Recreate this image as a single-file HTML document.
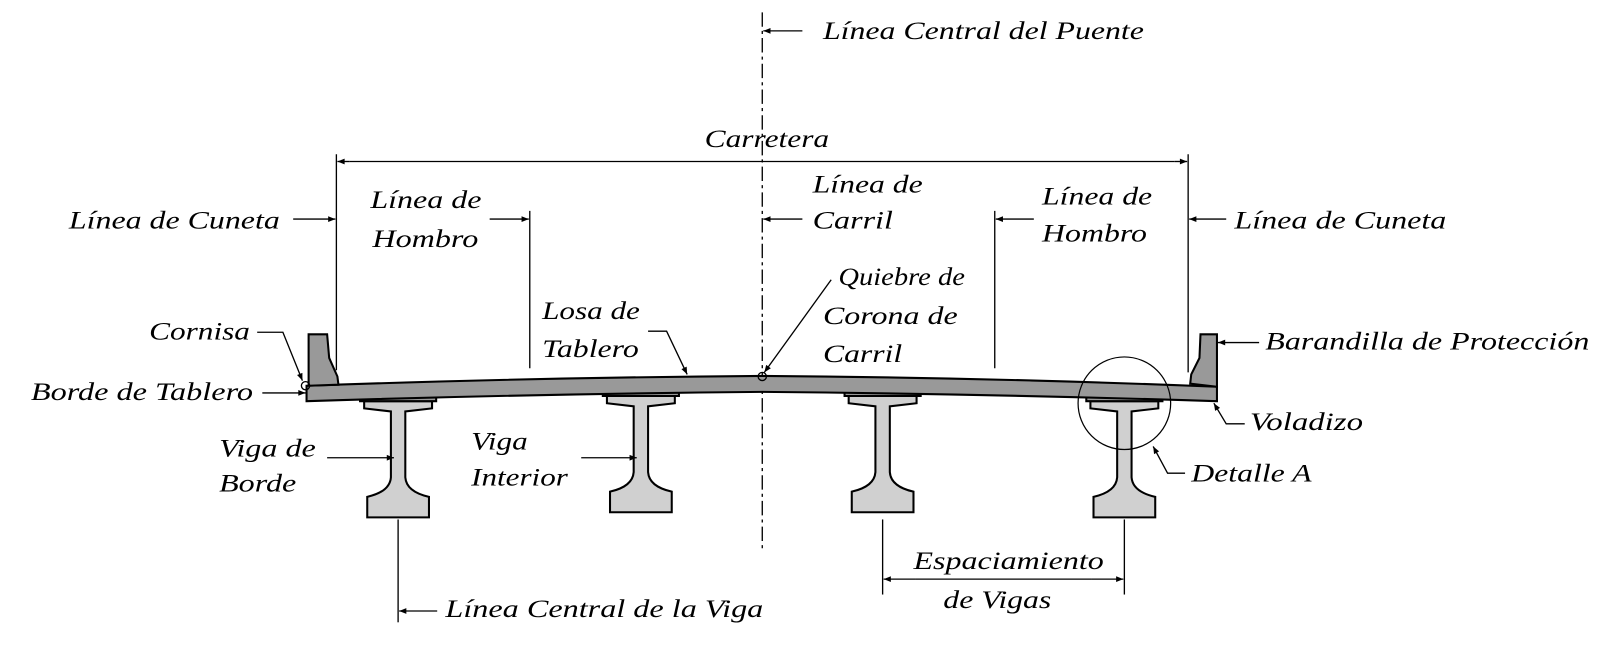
<!DOCTYPE html>
<html><head><meta charset="utf-8"><style>
html,body{margin:0;padding:0;background:#fff;}
svg{display:block;}
text{font-family:"Liberation Serif","Times New Roman",serif;font-style:italic;font-size:25px;fill:#000;}
</style></head><body>
<svg width="1613" height="647" viewBox="0 0 1568 629" preserveAspectRatio="none" xmlns="http://www.w3.org/2000/svg">
<defs>
<marker id="a" viewBox="0 0 10 10" refX="10" refY="5" markerWidth="9" markerHeight="7" orient="auto" markerUnits="userSpaceOnUse"><path d="M0,1 L10,5 L0,9 z" fill="#000"/></marker>
<g id="g">
<path d="M-33,4 L33,4 L33,11 L7,14 L7,78 Q8,92 30,97 L30,117 L-30,117 L-30,97 Q-8,92 -7,78 L-7,14 L-33,11 Z" fill="#d0d0d0" stroke="#000" stroke-width="2"/>
<path d="M-37,-4 L37,-4 L37,4 L-37,4 Z" fill="#999" stroke="#000" stroke-width="2"/>
</g>
</defs>
<rect width="1568" height="629" fill="#fff"/>
<line x1="741" y1="12" x2="741" y2="535" stroke="#000" stroke-width="1.3" stroke-dasharray="14,4,3,4"/>
<g stroke="#000" stroke-width="1.3">
<line x1="327" y1="150" x2="327" y2="360"/>
<line x1="515" y1="205" x2="515" y2="358"/>
<line x1="967" y1="205" x2="967" y2="358"/>
<line x1="1155" y1="150" x2="1155" y2="362"/>
<line x1="387" y1="505" x2="387" y2="605"/>
<line x1="858" y1="505" x2="858" y2="578"/>
<line x1="1093" y1="505" x2="1093" y2="578"/>
</g>
<use href="#g" x="387" y="386"/>
<use href="#g" x="623" y="381"/>
<use href="#g" x="858" y="381"/>
<use href="#g" x="1093" y="386"/>
<path d="M298,375 Q520,367 741,365.5 Q962,367 1183,376 L1183,390 Q962,383 741,381 Q520,383 298,390 Z" fill="#999" stroke="#000" stroke-width="2"/>
<path d="M300,375 L300,325 L318,325 L320,348 L328,366 L329,374 Z" fill="#999" stroke="#000" stroke-width="2"/>
<path d="M1183,376 L1183,325 L1167,325 L1166,348 L1158,364 L1157,373 Z" fill="#999" stroke="#000" stroke-width="2"/>
<circle cx="297" cy="375" r="4" fill="none" stroke="#000" stroke-width="1.3"/>
<circle cx="741" cy="366" r="4" fill="none" stroke="#000" stroke-width="1.3"/>
<circle cx="1093" cy="392" r="45" fill="none" stroke="#000" stroke-width="1.2"/>
<g stroke="#000" stroke-width="1.3" fill="none">
<line x1="340" y1="157" x2="1142" y2="157"/>
<line x1="340" y1="157" x2="328" y2="157" marker-end="url(#a)"/>
<line x1="1142" y1="157" x2="1154" y2="157" marker-end="url(#a)"/>
<line x1="780" y1="30" x2="742" y2="30" marker-end="url(#a)"/>
<line x1="285" y1="213" x2="326" y2="213" marker-end="url(#a)"/>
<line x1="476" y1="213" x2="514" y2="213" marker-end="url(#a)"/>
<line x1="780" y1="213" x2="742" y2="213" marker-end="url(#a)"/>
<line x1="1005" y1="213" x2="968" y2="213" marker-end="url(#a)"/>
<line x1="1192" y1="213" x2="1156" y2="213" marker-end="url(#a)"/>
<polyline points="630,322 648,322 668,364" marker-end="url(#a)"/>
<line x1="808" y1="272" x2="743" y2="362" marker-end="url(#a)"/>
<polyline points="250,323 275,323 294,370" marker-end="url(#a)"/>
<line x1="255" y1="382" x2="297" y2="382" marker-end="url(#a)"/>
<line x1="318" y1="445" x2="383" y2="445" marker-end="url(#a)"/>
<line x1="565" y1="445" x2="619" y2="445" marker-end="url(#a)"/>
<line x1="1224" y1="333" x2="1184" y2="333" marker-end="url(#a)"/>
<polyline points="1210,412 1192,412 1180,392" marker-end="url(#a)"/>
<polyline points="1152,460 1135,460 1121,434" marker-end="url(#a)"/>
<line x1="425" y1="594" x2="388" y2="594" marker-end="url(#a)"/>
<line x1="890" y1="563" x2="1061" y2="563"/>
<line x1="890" y1="563" x2="859" y2="563" marker-end="url(#a)"/>
<line x1="1061" y1="563" x2="1092" y2="563" marker-end="url(#a)"/>
</g>
<text x="800" y="38" textLength="312" lengthAdjust="spacingAndGlyphs">Línea Central del Puente</text>
<text x="685" y="143" textLength="121" lengthAdjust="spacingAndGlyphs">Carretera</text>
<text x="67" y="222" textLength="205" lengthAdjust="spacingAndGlyphs">Línea de Cuneta</text>
<text x="360" y="202" textLength="108" lengthAdjust="spacingAndGlyphs">Línea de</text>
<text x="362" y="240" textLength="103" lengthAdjust="spacingAndGlyphs">Hombro</text>
<text x="790" y="187" textLength="107" lengthAdjust="spacingAndGlyphs">Línea de</text>
<text x="790" y="222" textLength="78" lengthAdjust="spacingAndGlyphs">Carril</text>
<text x="1013" y="199" textLength="107" lengthAdjust="spacingAndGlyphs">Línea de</text>
<text x="1013" y="235" textLength="102" lengthAdjust="spacingAndGlyphs">Hombro</text>
<text x="1200" y="222" textLength="206" lengthAdjust="spacingAndGlyphs">Línea de Cuneta</text>
<text x="527" y="310" textLength="95" lengthAdjust="spacingAndGlyphs">Losa de</text>
<text x="527" y="347" textLength="94" lengthAdjust="spacingAndGlyphs">Tablero</text>
<text x="815" y="277" textLength="123" lengthAdjust="spacingAndGlyphs">Quiebre de</text>
<text x="800" y="315" textLength="131" lengthAdjust="spacingAndGlyphs">Corona de</text>
<text x="800" y="352" textLength="77" lengthAdjust="spacingAndGlyphs">Carril</text>
<text x="145" y="330" textLength="98" lengthAdjust="spacingAndGlyphs">Cornisa</text>
<text x="30" y="389" textLength="216" lengthAdjust="spacingAndGlyphs">Borde de Tablero</text>
<text x="213" y="444" textLength="94" lengthAdjust="spacingAndGlyphs">Viga de</text>
<text x="213" y="478" textLength="75" lengthAdjust="spacingAndGlyphs">Borde</text>
<text x="458" y="437" textLength="55" lengthAdjust="spacingAndGlyphs">Viga</text>
<text x="458" y="472" textLength="94" lengthAdjust="spacingAndGlyphs">Interior</text>
<text x="1230" y="340" textLength="315" lengthAdjust="spacingAndGlyphs">Barandilla de Protección</text>
<text x="1215" y="418" textLength="110" lengthAdjust="spacingAndGlyphs">Voladizo</text>
<text x="1158" y="468" textLength="117" lengthAdjust="spacingAndGlyphs">Detalle A</text>
<text x="888" y="553" textLength="185" lengthAdjust="spacingAndGlyphs">Espaciamiento</text>
<text x="917" y="591" textLength="105" lengthAdjust="spacingAndGlyphs">de Vigas</text>
<text x="433" y="600" textLength="309" lengthAdjust="spacingAndGlyphs">Línea Central de la Viga</text>
</svg>
</body></html>
